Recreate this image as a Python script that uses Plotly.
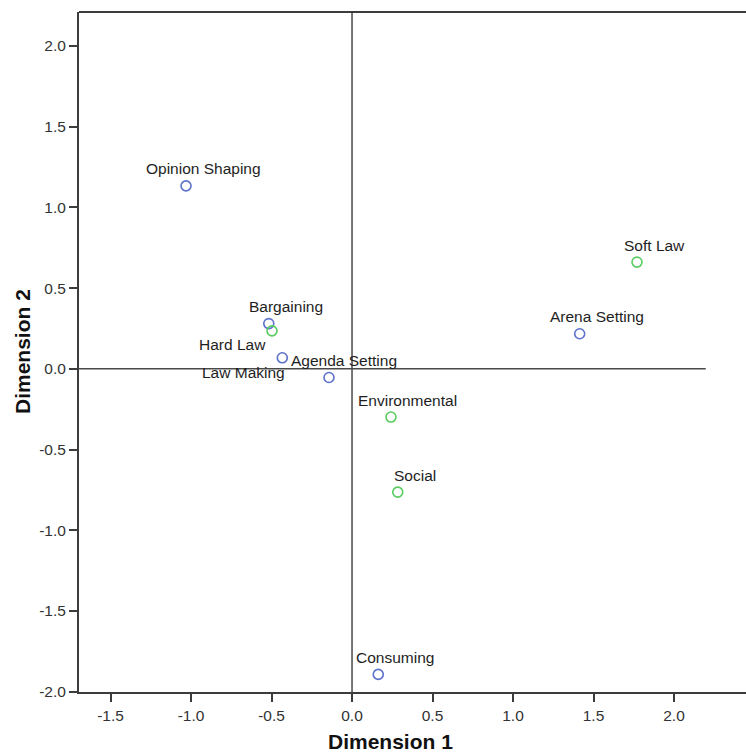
import plotly.graph_objects as go

# Category quantifications (joint plot of two variable sets)
blue_labels = ["Opinion Shaping", "Bargaining", "Agenda Setting", "Law Making",
               "Arena Setting", "Consuming"]
blue_dim1 = [-1.031, -0.517, -0.433, -0.143, 1.414, 0.163]
blue_dim2 = [1.133, 0.280, 0.068, -0.054, 0.217, -1.893]

green_labels = ["Hard Law", "Soft Law", "Environmental", "Social"]
green_dim1 = [-0.497, 1.770, 0.242, 0.284]
green_dim2 = [0.235, 0.661, -0.299, -0.764]

x_ticks = [-1.5, -1.0, -0.5, 0.0, 0.5, 1.0, 1.5, 2.0]
y_ticks = [-2.0, -1.5, -1.0, -0.5, 0.0, 0.5, 1.0, 1.5, 2.0]

BLUE = "rgb(92,112,204)"
GREEN = "rgb(88,204,96)"
AXIS = "#3c3c3c"
FONT = "Liberation Sans, Arial, sans-serif"

X_RANGE = [-1.6957, 2.447]
Y_RANGE = [-2.002, 2.21]
REF_END = 2.197

fig = go.Figure()

# reference lines through the origin
fig.add_shape(type="line", x0=X_RANGE[0], x1=REF_END, y0=0, y1=0,
              line=dict(color="#4a4a4a", width=1.5), layer="below")
fig.add_shape(type="line", x0=0, x1=0, y0=Y_RANGE[0], y1=Y_RANGE[1],
              line=dict(color="#4a4a4a", width=1.5), layer="below")
# top frame line
fig.add_shape(type="line", xref="paper", yref="paper", x0=0, x1=1, y0=1, y1=1,
              line=dict(color=AXIS, width=2))

fig.add_trace(go.Scatter(
    x=blue_dim1, y=blue_dim2, mode="markers",
    marker=dict(symbol="circle-open", size=10, color=BLUE, line=dict(width=1.6)),
    hoverinfo="text", text=blue_labels, showlegend=False))
fig.add_trace(go.Scatter(
    x=green_dim1, y=green_dim2, mode="markers",
    marker=dict(symbol="circle-open", size=10, color=GREEN, line=dict(width=1.6)),
    hoverinfo="text", text=green_labels, showlegend=False))

# label placement: default is up and to the right of the point
special = {
    "Hard Law": dict(xanchor="right", xshift=-4, yshift=-14),
    "Agenda Setting": dict(xanchor="left", xshift=7, yshift=-3),
    "Law Making": dict(xanchor="right", xshift=-42, yshift=5),
}
for names, xs, ys in [(blue_labels, blue_dim1, blue_dim2),
                      (green_labels, green_dim1, green_dim2)]:
    for name, xv, yv in zip(names, xs, ys):
        opts = special.get(name, dict(xanchor="center", xshift=17, yshift=17))
        fig.add_annotation(x=xv, y=yv, text=name, showarrow=False,
                           yanchor="middle",
                           font=dict(family=FONT, size=15.5, color="#1e1e1e"),
                           **opts)

# axis titles
fig.add_annotation(xref="paper", yref="paper", x=(390 - 79) / 667, y=(692 - 741) / 680,
                   text="<b>Dimension 1</b>", showarrow=False,
                   xanchor="center", yanchor="middle",
                   font=dict(family=FONT, size=21, color="#111"))
fig.add_annotation(xref="paper", yref="paper", x=(22 - 79) / 667, y=0.5,
                   text="<b>Dimension 2</b>", showarrow=False, textangle=-90,
                   xanchor="center", yanchor="middle",
                   font=dict(family=FONT, size=21, color="#111"))

fig.update_layout(
    width=746, height=754,
    margin=dict(l=79, r=0, t=12, b=62),
    paper_bgcolor="white", plot_bgcolor="white",
    xaxis=dict(range=X_RANGE, tickvals=x_ticks,
               ticktext=[f"{v:.1f}" for v in x_ticks],
               showgrid=False, zeroline=False, showline=True,
               linecolor=AXIS, linewidth=2, ticks="outside", ticklen=8,
               tickwidth=2, tickcolor=AXIS,
               tickfont=dict(family=FONT, size=15.5, color="#333")),
    yaxis=dict(range=Y_RANGE, tickvals=y_ticks,
               ticktext=[f"{v:.1f}" for v in y_ticks],
               showgrid=False, zeroline=False, showline=True,
               linecolor=AXIS, linewidth=2, ticks="outside", ticklen=8,
               tickwidth=2, tickcolor=AXIS,
               tickfont=dict(family=FONT, size=15.5, color="#333")),
)

fig.write_html("out.html")
